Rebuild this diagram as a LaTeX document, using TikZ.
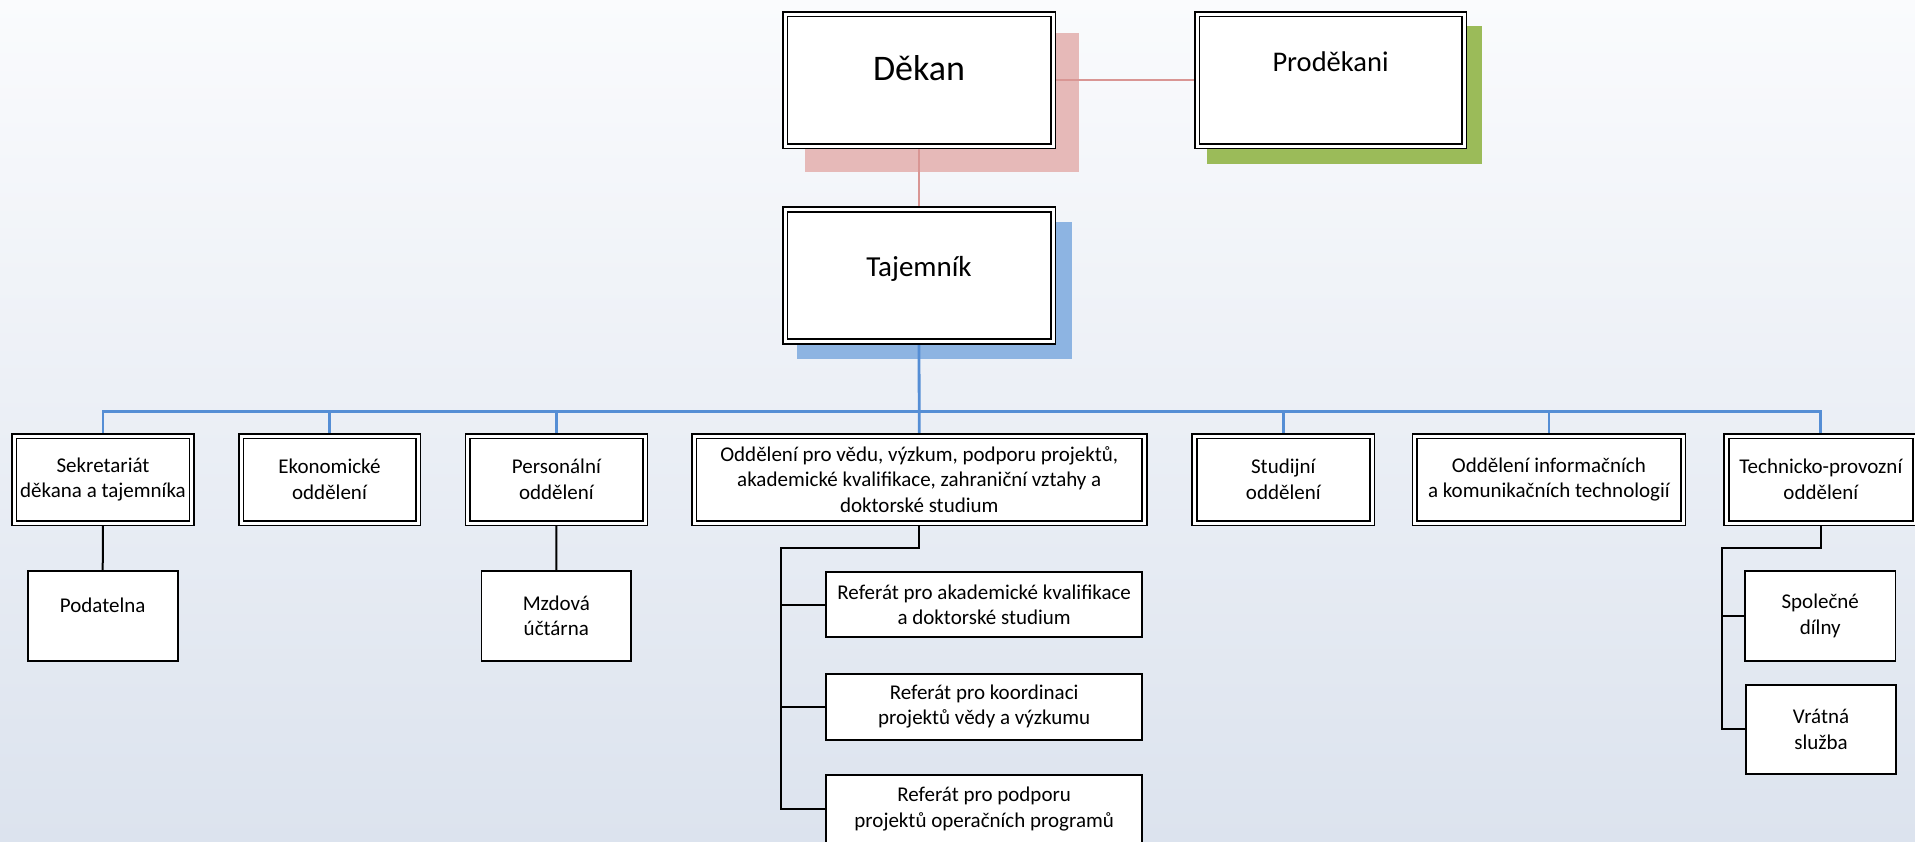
\documentclass[tikz,border=0pt]{standalone}
\usepackage{fontspec}
\setmainfont{Carlito}
\definecolor{bgtop}{HTML}{FAFBFD}
\definecolor{bgbot}{HTML}{DCE3EE}
\definecolor{pinksh}{HTML}{E6B9B8}
\definecolor{greensh}{HTML}{9BBB59}
\definecolor{bluesh}{HTML}{8DB4E2}
\definecolor{pinkln}{HTML}{D99694}
\definecolor{blueln}{HTML}{558ED5}
\newcommand{\rowfont}{\fontsize{10.5pt}{12.75pt}\selectfont}
\pgfdeclarelayer{back}
\pgfdeclarelayer{links}
\pgfsetlayers{back,links,main}
\begin{document}
\begin{tikzpicture}[x=0.5pt,y=-0.5pt,
  dbox/.style={draw=black, fill=white, line width=0.85pt, double=white, double distance=1.5pt,
    inner sep=0pt, align=center, font=\rowfont},
  sbox/.style={draw=black, fill=white, line width=0.9pt, inner sep=0pt, align=center, font=\rowfont},
  topbox/.style={dbox, minimum width=134pt, minimum height=66pt},
  rowbox/.style={dbox, minimum height=43.5pt},
  pinkline/.style={draw=pinkln, line width=1.3pt},
  blueline/.style={draw=blueln, line width=1.4pt},
  blackline/.style={draw=black, line width=1pt},
  lbl/.style={inner sep=0pt, anchor=base}
]
\useasboundingbox (0,0) rectangle (1915,841);
\begin{pgfonlayer}{back}
  \shade[top color=bgtop, bottom color=bgbot] (0,0) rectangle (1915,841);
  \fill[pinksh] (805,33) rectangle (1079,172);
  \fill[greensh] (1207,26) rectangle (1482,164);
  \fill[bluesh] (797,222) rectangle (1071.5,359.3);
\end{pgfonlayer}
\clip (0,0) rectangle (1915,841);

% top level
\node[topbox] (dekan) at (919,80) {};
\node[lbl, font=\fontsize{18pt}{21pt}\selectfont] (dekanT) at (dekan.center) {Děkan};
\node[topbox, minimum width=133.5pt] (prodekani) at (1330.5,80) {};
\node[lbl, font=\fontsize{14.25pt}{17pt}\selectfont] (prodekaniT) at ([yshift=4.5pt]prodekani.center) {Proděkani};
\node[topbox] (tajemnik) at (919,275.5) {};
\node[lbl, font=\fontsize{14.5pt}{17pt}\selectfont] (tajemnikT) at ([yshift=-0.25pt]tajemnik.center) {Tajemník};

% second row
\node[rowbox, minimum width=88.75pt] (sekr) at (103,479.5) {Sekretariát\\děkana a tajemníka};
\node[rowbox, minimum width=88.5pt] (ekon) at (329.5,479.5) {Ekonomické\\oddělení};
\node[rowbox, minimum width=88.6pt] (pers) at (556.4,479.5) {Personální\\oddělení};
\node[rowbox, minimum width=225.25pt] (odd) at (919.25,479.5) {Oddělení pro vědu, výzkum, podporu projektů,\\akademické kvalifikace, zahraniční vztahy a\\doktorské studium};
\node[rowbox, minimum width=88.7pt] (stud) at (1283.3,479.5) {Studijní\\oddělení};
\node[rowbox, minimum width=134.15pt] (oinf) at (1548.9,479.5) {Oddělení informačních\\a komunikačních technologií};
\node[rowbox, minimum width=94.3pt] (tech) at (1820.8,479.5) {Technicko-provozní\\oddělení};

% third row
\node[sbox, minimum width=74.9pt, minimum height=44.7pt] (podatelna) at (102.7,616) {};
\node[lbl, font=\rowfont] (podatelnaT) at ([yshift=1.65pt]podatelna.center) {Podatelna};
\node[sbox, minimum width=74.85pt, minimum height=44.7pt] (mzdova) at (556.3,616) {Mzdová\\účtárna};
\node[sbox, minimum width=158.15pt, minimum height=32.65pt] (ref1) at (984.15,604.65) {Referát pro akademické kvalifikace\\a doktorské studium};
\node[sbox, minimum width=158.15pt, minimum height=33pt] (ref2) at (984.15,706.7) {Referát pro koordinaci\\projektů vědy a výzkumu};
\node[sbox, minimum width=158.15pt, minimum height=34pt] (ref3) at (984.15,809) {Referát pro podporu\\projektů operačních programů};
\node[sbox, minimum width=75.25pt, minimum height=44.7pt] (spol) at (1820.25,616) {Společné\\dílny};
\node[sbox, minimum width=75pt, minimum height=44.65pt] (vrat) at (1821,729.35) {Vrátná\\služba};

\coordinate (bus) at (919,411.7);
\coordinate (oddbr) at (781,547.7);
\coordinate (techbr) at (1721.8,547.7);

\begin{pgfonlayer}{links}
  \draw[pinkline] (dekan.east) -- (prodekani.west);
  \draw[pinkline] (dekan.south) -- (tajemnik.north);
  \draw[blueline] (tajemnik.south) -- (odd.north);
  \draw[blueline] (sekr.north) -- (sekr.north |- bus) -- (tech.north |- bus) -- (tech.north);
  \foreach \n in {ekon,pers,stud,oinf} \draw[blueline] (\n.north) -- (\n.north |- bus);
  \draw[blackline] (sekr.south) -- (podatelna.north);
  \draw[blackline] (pers.south) -- (mzdova.north);
  \draw[blackline] (odd.south) |- (oddbr) |- (ref3.west);
  \draw[blackline] (oddbr |- ref1.west) -- (ref1.west);
  \draw[blackline] (oddbr |- ref2.west) -- (ref2.west);
  \draw[blackline] (tech.south) |- (techbr) |- (vrat.west);
  \draw[blackline] (techbr |- spol.west) -- (spol.west);
\end{pgfonlayer}
\end{tikzpicture}
\end{document}
